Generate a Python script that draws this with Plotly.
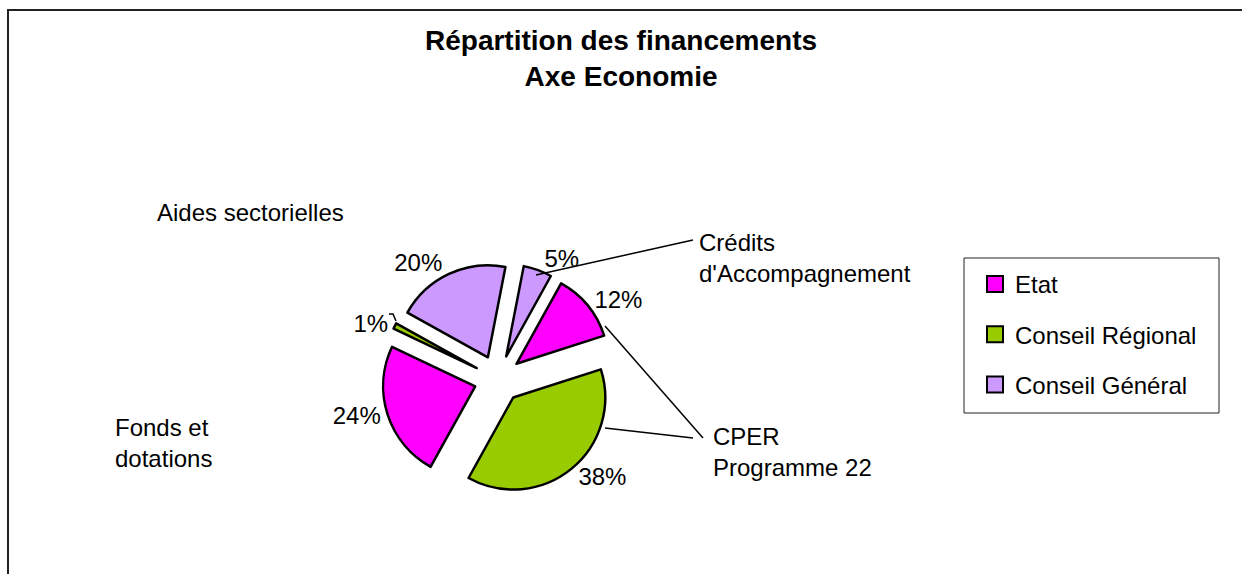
import plotly.graph_objects as go

# financing split, slices listed clockwise from the top
slice_values = [5, 12, 38, 24, 1, 20]
slice_funders = ["Conseil Général", "Etat", "Conseil Régional",
                 "Etat", "Conseil Régional", "Conseil Général"]
slice_groups = ["Crédits d'Accompagnement", "CPER Programme 22", "CPER Programme 22",
                "Fonds et dotations", "Aides sectorielles", "Aides sectorielles"]

funders = ["Etat", "Conseil Régional", "Conseil Général"]
funder_colors = ["#FF00FF", "#99CC00", "#CC99FF"]

W, H = 1242, 574
FONT = "Arial, Liberation Sans, sans-serif"


def px(x, y):
    # pixel position -> paper coordinates
    return x / W, 1 - y / H


color_of = dict(zip(funders, funder_colors))

fig = go.Figure()

fig.add_trace(
    go.Pie(
        labels=[g + " - " + f for g, f in zip(slice_groups, slice_funders)],
        values=slice_values,
        sort=False,
        direction="clockwise",
        rotation=11,
        pull=0.26,
        marker=dict(colors=[color_of[f] for f in slice_funders],
                    line=dict(color="black", width=2.5)),
        texttemplate="%{percent:.0%}",
        textposition="outside",
        outsidetextfont=dict(family=FONT, size=24, color="black"),
        domain=dict(x=[382 / W, 614 / W], y=[(574 - 495) / H, (574 - 263) / H]),
        showlegend=False,
        hoverinfo="label+percent",
    )
)

# legend entries, one per funder
for name, col in zip(funders, funder_colors):
    fig.add_trace(
        go.Scatter(
            x=[None], y=[None], mode="markers", name=name,
            legendgroup=name,
            marker=dict(symbol="square", size=16, color=col,
                        line=dict(color="black", width=2)),
        )
    )

shapes = []
# outer frame
shapes.append(dict(type="rect", xref="paper", yref="paper",
                   x0=8 / W, y0=-0.05, x1=1.05, y1=1 - 10 / H,
                   line=dict(color="#222", width=2)))
# legend frame
shapes.append(dict(type="rect", xref="paper", yref="paper",
                   x0=964 / W, y0=1 - 413 / H, x1=1219 / W, y1=1 - 258 / H,
                   line=dict(color="#222", width=1)))
# leader lines to the group labels, plus the small tick by the 1% label
leaders = [[(536, 275), (693, 240)],
           [(605, 326), (703, 438)],
           [(605, 428), (693, 438)],
           [(389, 314), (393, 314), (396, 321)]]
for pts in leaders:
    path = ""
    for k, (xa, ya) in enumerate(pts):
        xp, yp = px(xa, ya)
        path += ("M" if k == 0 else " L") + f"{xp:.5f},{yp:.5f}"
    shapes.append(dict(type="path", xref="paper", yref="paper", path=path,
                       line=dict(color="black", width=1.5)))

group_labels = [("Aides sectorielles", 155, 212),
                ("Crédits<br>d'Accompagnement", 697, 258),
                ("CPER<br>Programme 22", 711, 452),
                ("Fonds et<br>dotations", 113, 443)]
annotations = []
for text, x, y in group_labels:
    ax, ay = px(x, y)
    annotations.append(dict(text=text, x=ax, y=ay, xref="paper", yref="paper",
                            xanchor="left", yanchor="middle", align="left",
                            showarrow=False,
                            font=dict(family=FONT, size=24, color="black")))

# title
annotations.append(dict(text="<b>Répartition des financements<br>Axe Economie</b>",
                        x=0.5, y=1 - 23 / H, xref="paper", yref="paper",
                        xanchor="center", yanchor="top", align="center",
                        showarrow=False,
                        font=dict(family=FONT, size=28, color="black")))

fig.update_layout(
    width=W, height=H,
    font=dict(family=FONT, size=24, color="black"),
    template="plotly_white",
    paper_bgcolor="white",
    plot_bgcolor="white",
    xaxis=dict(visible=False),
    yaxis=dict(visible=False),
    legend=dict(x=975 / W, y=1 - 262 / H, xanchor="left", yanchor="top",
                bgcolor="rgba(0,0,0,0)", borderwidth=0,
                tracegroupgap=16, font=dict(family=FONT, size=24)),
    shapes=shapes,
    annotations=annotations,
    margin=dict(l=0, r=0, t=0, b=0),
)

fig.write_html("out.html", config={"displayModeBar": False},
               post_script="document.body.style.margin = '0px';")
